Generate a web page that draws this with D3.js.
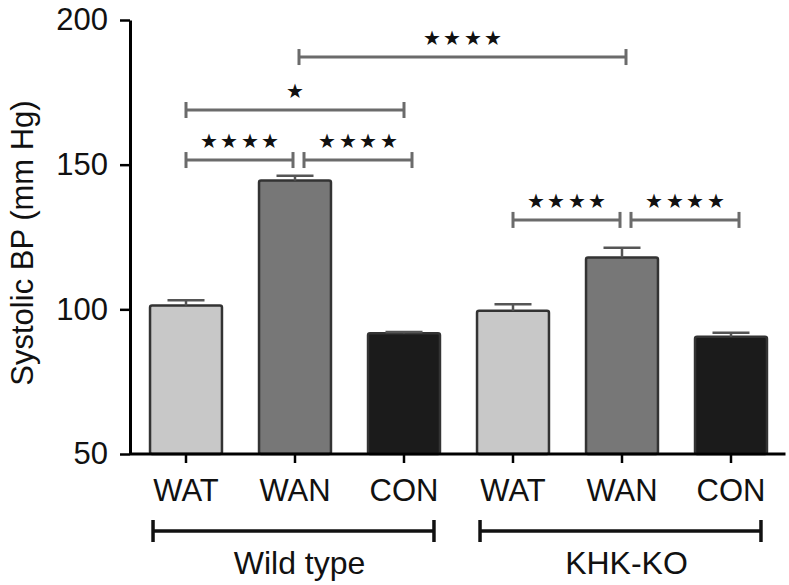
<!DOCTYPE html>
<html>
<head>
<meta charset="utf-8">
<script src="https://cdn.jsdelivr.net/npm/d3@7"></script>
<style>
  html, body { margin: 0; padding: 0; background: #fff; }
  svg { display: block; }
  text { font-family: "Liberation Sans", Arial, Helvetica, sans-serif; fill: #111; }
</style>
</head>
<body>
<svg id="chart" width="789" height="585"></svg>
<script>
// ---- data ----
const groups = ["Wild type", "KHK-KO"];
const treatments = ["WAT", "WAN", "CON"];
const barGroup = [0, 0, 0, 1, 1, 1];
const barTreatment = [0, 1, 2, 0, 1, 2];
const means = [101.3, 144.5, 91.7, 99.5, 117.9, 90.5];
const sem = [1.8, 1.7, 0.5, 2.3, 3.4, 1.4];
const yTicks = [50, 100, 150, 200];
const yTitle = "Systolic BP (mm Hg)";

// significance brackets (bar index from/to, height in mm Hg, number of stars)
const sigFrom = [1, 0, 0, 1, 3, 4];
const sigTo = [4, 2, 1, 2, 4, 5];
const sigLevel = [187.2, 168.9, 151.6, 151.6, 130.9, 130.9];
const sigStars = [4, 1, 4, 4, 4, 4];

// ---- styles ----
const fills = ["#c8c8c8", "#777777", "#1b1b1b"];
const svg = d3.select("#chart");

const ids = means.map((d, i) => "b" + i);
const x = d3.scaleBand().domain(ids).range([131.5, 785.5]).paddingInner(0.34).paddingOuter(0.17);
const y = d3.scaleLinear().domain([50, 200]).range([454, 20]);
const cx = i => x(ids[i]) + x.bandwidth() / 2;

// bars
svg.append("g").selectAll("rect").data(means).join("rect")
  .attr("x", (d, i) => x(ids[i]))
  .attr("width", x.bandwidth())
  .attr("y", d => y(d))
  .attr("height", d => y(50) - y(d))
  .attr("rx", 2)
  .attr("fill", (d, i) => fills[barTreatment[i]])
  .attr("stroke", "#333")
  .attr("stroke-width", 2.5);

// error bars
const eg = svg.append("g").attr("stroke", "#555").attr("stroke-width", 2.5);
means.forEach((m, i) => {
  eg.append("line").attr("x1", cx(i)).attr("x2", cx(i)).attr("y1", y(m)).attr("y2", y(m + sem[i]));
  eg.append("line").attr("x1", cx(i) - 18.5).attr("x2", cx(i) + 18.5).attr("y1", y(m + sem[i])).attr("y2", y(m + sem[i]));
});

// y axis
const yAxis = d3.axisLeft(y).tickValues(yTicks).tickSize(10).tickPadding(12).tickSizeOuter(0);
const gy = svg.append("g").attr("transform", "translate(130,0)").call(yAxis);
gy.select(".domain").attr("stroke", "#000").attr("stroke-width", 3);
gy.selectAll(".tick line").attr("stroke", "#000").attr("stroke-width", 2.5);
gy.selectAll(".tick text").attr("font-size", 31).attr("fill", "#111")
  .attr("font-family", "Liberation Sans, Arial, sans-serif");

// x axis
const xAxis = d3.axisBottom(x).tickSize(9).tickPadding(16).tickSizeOuter(0)
  .tickFormat((d, i) => treatments[barTreatment[i]]);
const gx = svg.append("g").attr("transform", "translate(0,454)").call(xAxis);
gx.select(".domain").attr("stroke", "#000").attr("stroke-width", 3).attr("d", "M130,0H785.5");
gx.selectAll(".tick line").attr("stroke", "#000").attr("stroke-width", 2.5);
gx.selectAll(".tick text").attr("font-size", 31).attr("fill", "#111")
  .attr("font-family", "Liberation Sans, Arial, sans-serif");

// y title
svg.append("text")
  .attr("transform", "translate(33,243) rotate(-90)")
  .attr("text-anchor", "middle")
  .attr("font-size", 31)
  .text(yTitle);

// significance brackets
const sg = svg.append("g");
sigFrom.forEach((f, k) => {
  const t = sigTo[k];
  const sharedStart = sigTo.some((tt, j) => j !== k && tt === f && sigLevel[j] === sigLevel[k]);
  const sharedEnd = sigFrom.some((ff, j) => j !== k && ff === t && sigLevel[j] === sigLevel[k]);
  const x1 = cx(f) + (sharedStart ? 9 : (f === 1 ? 4 : 0));
  const x2 = cx(t) + (sharedEnd ? -2 : (sharedStart ? 8 : (t === 4 ? 4 : 0)));
  const yy = y(sigLevel[k]);
  const g = sg.append("g").attr("stroke", "#6b6b6b").attr("stroke-width", 3);
  g.append("line").attr("x1", x1).attr("x2", x2).attr("y1", yy).attr("y2", yy);
  g.append("line").attr("x1", x1).attr("x2", x1).attr("y1", yy - 8).attr("y2", yy + 8);
  g.append("line").attr("x1", x2).attr("x2", x2).attr("y1", yy - 8).attr("y2", yy + 8);
  const mid = (x1 + x2) / 2;
  const n = sigStars[k];
  for (let s = 0; s < n; s++) {
    sg.append("text")
      .attr("x", mid + (s - (n - 1) / 2) * 20.5)
      .attr("y", yy - 19)
      .attr("text-anchor", "middle")
      .attr("dominant-baseline", "central")
      .attr("font-family", "DejaVu Sans, sans-serif")
      .attr("font-size", 20)
      .attr("fill", "#1a1a1a")
      .text("★");
  }
});

// group brackets
groups.forEach((gname, gi) => {
  const idx = barGroup.map((g, i) => g === gi ? i : -1).filter(i => i >= 0);
  const x1 = x(ids[idx[0]]) + 3;
  const x2 = x(ids[idx[idx.length - 1]]) + x.bandwidth() - 6;
  const yy = 531;
  const g = svg.append("g").attr("stroke", "#111").attr("stroke-width", 3.5);
  g.append("line").attr("x1", x1).attr("x2", x2).attr("y1", yy).attr("y2", yy);
  g.append("line").attr("x1", x1).attr("x2", x1).attr("y1", yy - 11).attr("y2", yy + 11);
  g.append("line").attr("x1", x2).attr("x2", x2).attr("y1", yy - 11).attr("y2", yy + 11);
  svg.append("text")
    .attr("x", (x1 + x2) / 2 + 6)
    .attr("y", 574)
    .attr("text-anchor", "middle")
    .attr("font-size", 32)
    .text(gname);
});
</script>
</body>
</html>
